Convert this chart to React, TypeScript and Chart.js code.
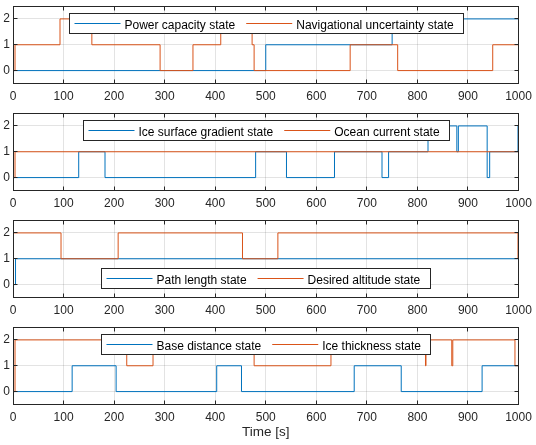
import React, { useEffect, useRef } from "react";
import { Chart, registerables } from "chart.js";

Chart.register(...registerables);

const BLUE = "#0072BD";
const ORANGE = "#D95319";
const AXIS = "#262626";
const GRID = "rgba(38,38,38,0.13)";
const FONT = '"Liberation Sans", Arial, Helvetica, sans-serif';

// ---- tick labels ----
const timeTicks = [0, 100, 200, 300, 400, 500, 600, 700, 800, 900, 1000];
const stateTicks = [0, 1, 2];
const timeEnd = 1000;
const xTitle = "Time [s]";

// ---- panel 1 ----
const powerCapacityTimes = [0, 500, 750];
const powerCapacityStates = [0, 1, 2];
const navUncertaintyTimes = [0, 4, 93, 156, 291, 356, 411, 473, 477, 667, 761, 949];
const navUncertaintyStates = [0, 1, 2, 1, 0, 1, 2, 1, 0, 1, 0, 1];

// ---- panel 2 ----
const iceGradientTimes = [0, 130, 182, 480, 541, 636, 730, 743, 821, 878, 881, 938, 943, 999];
const iceGradientStates = [0, 1, 0, 1, 0, 1, 0, 1, 2, 1, 2, 0, 1, 2];
const oceanCurrentTimes = [0, 4];
const oceanCurrentStates = [0, 1];

// ---- panel 3 ----
const pathLengthTimes = [0, 5];
const pathLengthStates = [0, 1];
const desiredAltitudeTimes = [0, 95, 208, 454, 524, 999];
const desiredAltitudeStates = [2, 1, 2, 1, 2, 1];

// ---- panel 4 ----
const baseDistanceTimes = [0, 117, 204, 403, 452, 675, 768, 928];
const baseDistanceStates = [0, 1, 0, 1, 0, 1, 0, 1];
const iceThicknessTimes = [0, 4, 225, 277, 477, 629, 816, 817, 868, 870, 993];
const iceThicknessStates = [0, 2, 1, 2, 1, 2, 1, 2, 1, 2, 1];

// ---- layout (not data) ----
const PANEL_TOPS = [6, 113, 220, 327];
const AREA_H = 77.5;
const PAD_TOP = 6;
const AXIS_H = 24;
const LAST_AXIS_H = 36;
const LEFT_W = 13;
const RIGHT_PAD = 17.5;

type Series = { label: string; color: string; times: number[]; states: number[] };
type PanelSpec = {
  top: number;
  axisH: number;
  legendAt: "top" | "bottom";
  showTitle: boolean;
  series: Series[];
};

const panels: PanelSpec[] = [
  {
    top: PANEL_TOPS[0], axisH: AXIS_H, legendAt: "top", showTitle: false,
    series: [
      { label: "Power capacity state", color: BLUE, times: powerCapacityTimes, states: powerCapacityStates },
      { label: "Navigational uncertainty state", color: ORANGE, times: navUncertaintyTimes, states: navUncertaintyStates },
    ],
  },
  {
    top: PANEL_TOPS[1], axisH: AXIS_H, legendAt: "top", showTitle: false,
    series: [
      { label: "Ice surface gradient state", color: BLUE, times: iceGradientTimes, states: iceGradientStates },
      { label: "Ocean current state", color: ORANGE, times: oceanCurrentTimes, states: oceanCurrentStates },
    ],
  },
  {
    top: PANEL_TOPS[2], axisH: AXIS_H, legendAt: "bottom", showTitle: false,
    series: [
      { label: "Path length state", color: BLUE, times: pathLengthTimes, states: pathLengthStates },
      { label: "Desired altitude state", color: ORANGE, times: desiredAltitudeTimes, states: desiredAltitudeStates },
    ],
  },
  {
    top: PANEL_TOPS[3], axisH: LAST_AXIS_H, legendAt: "top", showTitle: true,
    series: [
      { label: "Base distance state", color: BLUE, times: baseDistanceTimes, states: baseDistanceStates },
      { label: "Ice thickness state", color: ORANGE, times: iceThicknessTimes, states: iceThicknessStates },
    ],
  },
];

const toSteps = (times: number[], states: number[]) => [
  ...times.map((t, i) => ({ x: t, y: states[i] })),
  { x: timeEnd, y: states[states.length - 1] },
];

const snap = (v: number) => Math.floor(v) + 0.5;

const matlabAxesPlugin = {
  id: "matlabAxes",
  afterDatasetsDraw(chart: any) {
    const { ctx, chartArea: a, scales } = chart;
    const L = snap(a.left), R = snap(a.right), T = snap(a.top), B = snap(a.bottom);
    ctx.save();
    ctx.strokeStyle = AXIS;
    ctx.lineWidth = 1;
    ctx.beginPath();
    const tl = 4;
    timeTicks.forEach((v) => {
      const px = snap(scales.x.getPixelForValue(v));
      ctx.moveTo(px, B); ctx.lineTo(px, B - tl);
      ctx.moveTo(px, T); ctx.lineTo(px, T + tl);
    });
    stateTicks.forEach((v) => {
      const py = snap(scales.y.getPixelForValue(v));
      ctx.moveTo(L, py); ctx.lineTo(L + tl, py);
      ctx.moveTo(R, py); ctx.lineTo(R - tl, py);
    });
    ctx.stroke();
    ctx.strokeRect(L, T, R - L, B - T);
    ctx.restore();
  },
};

const matlabLegendPlugin = {
  id: "matlabLegend",
  afterDraw(chart: any, _args: any, opts: any) {
    const { ctx, chartArea: a } = chart;
    ctx.save();
    ctx.font = `12px ${FONT}`;
    const items = chart.data.datasets.map((ds: any) => ({
      label: ds.label as string,
      color: ds.borderColor as string,
      w: ctx.measureText(ds.label).width,
    }));
    const lead = 5, lineLen = 46, gapText = 4, itemGap = 11, trail = 10, h = 20;
    const width = Math.round(
      lead + trail + items.reduce((s: number, it: any) => s + lineLen + gapText + it.w, 0) + itemGap * (items.length - 1)
    );
    const cx = (a.left + a.right) / 2;
    const left = Math.round(cx - width / 2) + 0.5;
    const top = opts.at === "bottom" ? Math.round(a.bottom - 10 - h) + 0.5 : Math.round(a.top + 6.5) + 0.5;
    ctx.fillStyle = "#ffffff";
    ctx.fillRect(left, top, width, h);
    ctx.strokeStyle = AXIS;
    ctx.lineWidth = 1;
    ctx.strokeRect(left, top, width, h);
    const midY = Math.floor(top + h / 2 - 0.5) + 0.5;
    let x = left + lead;
    items.forEach((it: any, i: number) => {
      ctx.strokeStyle = it.color;
      ctx.lineWidth = 1;
      ctx.beginPath();
      ctx.moveTo(x, midY);
      ctx.lineTo(x + lineLen, midY);
      ctx.stroke();
      x += lineLen + gapText;
      ctx.fillStyle = "#000000";
      ctx.textAlign = "left";
      ctx.textBaseline = "alphabetic";
      ctx.fillText(it.label, x, top + 15.5);
      x += it.w + (i < items.length - 1 ? itemGap : 0);
    });
    ctx.restore();
  },
};

function Panel({ spec }: { spec: PanelSpec }) {
  const ref = useRef<HTMLCanvasElement>(null);
  const total = PAD_TOP + AREA_H + spec.axisH;
  const h = Math.ceil(total);
  useEffect(() => {
    const canvas = ref.current;
    if (!canvas) return;
    const tickFont = { family: FONT, size: 12 };
    const chart = new Chart(canvas, {
      type: "line",
      data: {
        datasets: spec.series.map((s, i) => ({
          label: s.label,
          data: toSteps(s.times, s.states),
          borderColor: s.color,
          backgroundColor: s.color,
          borderWidth: 1,
          stepped: "before",
          pointRadius: 0,
          pointHoverRadius: 0,
          fill: false,
          order: spec.series.length - i,
        })),
      },
      options: {
        animation: false,
        responsive: false,
        maintainAspectRatio: false,
        events: [],
        layout: { padding: { top: PAD_TOP, right: RIGHT_PAD, bottom: h - total, left: 0 } },
        plugins: {
          legend: { display: false },
          tooltip: { enabled: false },
          title: { display: false },
          matlabLegend: { at: spec.legendAt },
        } as any,
        scales: {
          x: {
            type: "linear",
            min: 0,
            max: timeEnd,
            afterBuildTicks: (scale: any) => {
              scale.ticks = timeTicks.map((v) => ({ value: v }));
            },
            ticks: {
              font: tickFont,
              color: AXIS,
              padding: 6,
              maxRotation: 0,
              autoSkip: false,
              callback: (v: any) => String(v),
            },
            grid: { color: GRID, drawTicks: false, lineWidth: 1 },
            border: { display: false },
            title: {
              display: spec.showTitle,
              text: xTitle,
              color: AXIS,
              font: { family: FONT, size: 13.5 },
              padding: { top: 0, bottom: 0 },
            },
            afterFit: (scale: any) => {
              scale.height = spec.axisH;
              scale.paddingLeft = 0;
              scale.paddingRight = 0;
            },
          },
          y: {
            type: "linear",
            min: -0.5,
            max: 2.5,
            afterBuildTicks: (scale: any) => {
              scale.ticks = stateTicks.map((v) => ({ value: v }));
            },
            ticks: { font: tickFont, color: AXIS, padding: 3, callback: (v: any) => String(v) },
            grid: { color: GRID, drawTicks: false, lineWidth: 1 },
            border: { display: false },
            afterFit: (scale: any) => {
              scale.width = LEFT_W;
              scale.paddingTop = 0;
              scale.paddingBottom = 0;
            },
          },
        },
      } as any,
      plugins: [matlabAxesPlugin, matlabLegendPlugin],
    });
    return () => chart.destroy();
  }, [spec]);
  return (
    <canvas
      ref={ref}
      width={536}
      height={h}
      style={{ position: "absolute", left: 0, top: spec.top - PAD_TOP, width: 536, height: h }}
    />
  );
}

export default function App() {
  return (
    <div
      style={{
        position: "absolute",
        left: 0,
        top: 0,
        width: 536,
        height: 445,
        background: "#ffffff",
        overflow: "hidden",
      }}
    >
      {panels.map((p, i) => (
        <Panel key={i} spec={p} />
      ))}
    </div>
  );
}
